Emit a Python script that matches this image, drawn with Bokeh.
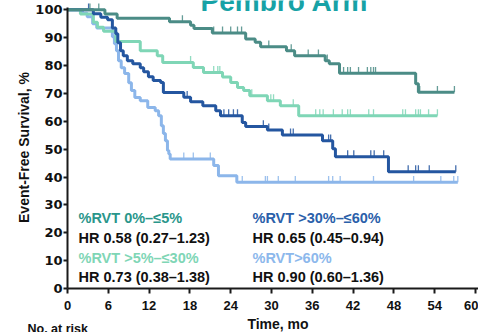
import numpy as np
from bokeh.plotting import figure
from bokeh.models import Label, FixedTicker, Range1d
from bokeh.embed import file_html
from bokeh.resources import INLINE

# ---- Kaplan-Meier data: step times (months), survival (%), last follow-up, censor times ----
rvt_0_5_t = [0, 5.5, 7.3, 15.0, 18.1, 18.6, 21.3, 26.2, 27.6, 28.4, 32.2, 33.4, 37.9, 38.5, 40.0, 51.2, 51.6]
rvt_0_5_s = [100, 98.5, 97.0, 95.7, 94.5, 93.3, 91.7, 89.5, 88.4, 86.7, 85.3, 83.5, 81.7, 80.6, 77.2, 73.5, 70.4]
rvt_0_5_end = 56.9
rvt_0_5_cens = [3.3, 4.6, 16.9, 21.5, 22.8, 24.0, 25.0, 25.6, 29.6, 32.9, 35.4, 36.9, 38.2, 40.6, 41.2,
                41.6, 42.8, 44.1, 44.6, 45.0, 45.3, 51.8, 54.4, 56.9]

rvt_5_30_t = [0, 1.9, 3.8, 4.4, 5.3, 7.1, 10.7, 13.2, 14.0, 18.5, 20.0, 22.8, 24.0, 25.0, 25.9, 26.8,
              29.4, 31.3, 34.0]
rvt_5_30_s = [100, 98.5, 95.5, 93.7, 92.3, 88.6, 85.3, 83.5, 81.1, 79.3, 77.5, 75.9, 73.9, 72.1, 71.0, 69.2,
              67.4, 65.6, 62.0]
rvt_5_30_end = 54.4
rvt_5_30_cens = [18.1, 21.5, 22.1, 22.4, 27.1, 29.9, 30.3, 33.2, 36.5, 37.1, 37.6, 39.1, 40.4, 41.2, 41.6,
                 44.3, 45.0, 49.3, 49.7, 51.2, 51.6, 51.9, 53.1, 54.4]

rvt_30_60_t = [0, 3.8, 4.9, 5.9, 6.6, 7.1, 7.4, 7.8, 8.2, 8.8, 9.6, 10.7, 11.2, 11.9, 12.6, 13.7, 14.1,
               17.1, 18.1, 19.9, 21.8, 22.5, 25.7, 26.2, 29.4, 31.6, 37.5, 39.0, 39.4, 47.2]
rvt_30_60_s = [100, 98.6, 97.3, 96.4, 93.5, 91.4, 88.2, 85.3, 83.5, 81.7, 80.6, 79.2, 77.8, 76.0, 74.6, 73.9,
               70.3, 68.6, 67.0, 65.6, 63.8, 62.0, 59.6, 58.1, 56.9, 55.1, 53.0, 50.1, 47.3, 41.9]
rvt_30_60_end = 57.1
rvt_30_60_cens = [3.1, 17.6, 23.0, 23.7, 24.4, 25.0, 28.8, 29.6, 32.8, 33.2, 38.4, 38.7, 41.2, 42.1, 44.6,
                  45.1, 46.5, 50.1, 51.2, 51.6, 53.2, 57.1]

rvt_60_t = [0, 2.2, 2.9, 3.7, 4.3, 6.6, 6.9, 7.2, 7.5, 7.9, 8.4, 9.0, 9.4, 9.9, 10.7, 11.8, 12.9, 13.4,
            13.8, 14.1, 14.4, 14.7, 14.9, 15.1, 21.5, 22.2, 24.9]
rvt_60_s = [100, 98.8, 97.5, 95.0, 93.5, 90.3, 87.8, 85.3, 81.7, 79.2, 77.1, 73.8, 71.0, 68.5, 67.4, 64.9,
            63.8, 62.0, 58.4, 55.6, 53.0, 49.5, 48.3, 46.5, 44.1, 40.5, 38.1]
rvt_60_end = 57.4
rvt_60_cens = [17.1, 18.5, 21.0, 25.7, 29.1, 29.4, 31.0, 33.5, 38.4, 39.0, 40.1, 45.0, 50.9, 54.9, 56.8, 57.4]

x_ticks = [0, 6, 12, 18, 24, 30, 36, 42, 48, 54, 60]
y_ticks = [0, 10, 20, 30, 40, 50, 60, 70, 80, 90, 100]

legend_left = ["%RVT 0%\u2013\u22645%", "HR 0.58 (0.27\u20131.23)",
               "%RVT >5%\u2013\u226430%", "HR 0.73 (0.38\u20131.38)"]
legend_right = ["%RVT >30%\u2013\u226460%", "HR 0.65 (0.45\u20130.94)",
                "%RVT>60%", "HR 0.90 (0.60\u20131.36)"]

C_TEAL = "#4b8c86"
C_MINT = "#7fd6b6"
C_BLUE = "#2456a0"
C_LBLUE = "#8cb6ea"

# ---- geometry: the frame covers the whole canvas; axes sit at t=0 and 0 % ----
X_PX_PER_MO = 6.8      # pixels per month
Y_PX_PER_PCT = 2.787   # pixels per survival percent
X0_PX, Y0_PX = 67, 288  # canvas position of the origin
W, H = 478, 332

p = figure(width=W, height=H, output_backend="svg", toolbar_location=None,
           x_range=Range1d(-X0_PX / X_PX_PER_MO, (W - X0_PX) / X_PX_PER_MO),
           y_range=Range1d(-(H - Y0_PX) / Y_PX_PER_PCT, Y0_PX / Y_PX_PER_PCT),
           min_border_left=0, min_border_right=0, min_border_top=0, min_border_bottom=0)
p.outline_line_color = None
p.xgrid.visible = False
p.ygrid.visible = False
p.background_fill_color = "white"
p.border_fill_color = "white"

for ax in (p.xaxis[0], p.yaxis[0]):
    ax.fixed_location = 0
    ax.axis_line_width = 2
    ax.axis_line_color = "#1a1a1a"
    ax.major_tick_line_width = 2
    ax.major_tick_line_color = "#1a1a1a"
    ax.major_tick_in = 0
    ax.minor_tick_out = 0
    ax.minor_tick_in = 0
    ax.major_label_text_font_style = "bold"
    ax.major_label_text_color = "#111111"

p.xaxis.ticker = FixedTicker(ticks=x_ticks)
p.xaxis.bounds = (0, (W - X0_PX) / X_PX_PER_MO)
p.xaxis.major_tick_out = 5
p.xaxis.major_label_standoff = 7
p.xaxis.major_label_text_font = "Liberation Sans"
p.xaxis.major_label_text_font_size = "13px"

p.yaxis.ticker = FixedTicker(ticks=y_ticks)
p.yaxis.bounds = (0, 101)
p.yaxis.major_tick_out = 4
p.yaxis.major_label_standoff = 1
p.yaxis.major_label_text_font = "DejaVu Sans"
p.yaxis.major_label_text_font_size = "13px"


def km_curve(t, s, end, cens, color):
    xs = list(t) + [end]
    ys = list(s) + [s[-1]]
    idx = np.searchsorted(np.array(t), np.array(cens), side="right") - 1
    cy = np.array(s)[idx]
    p.segment(x0=cens, y0=cy, x1=cens, y1=cy + 2.3, line_color=color, line_width=1.3, line_alpha=0.85)
    p.step(xs, ys, mode="after", line_color=color, line_width=3)


km_curve(rvt_60_t, rvt_60_s, rvt_60_end, rvt_60_cens, C_LBLUE)
km_curve(rvt_5_30_t, rvt_5_30_s, rvt_5_30_end, rvt_5_30_cens, C_MINT)
km_curve(rvt_30_60_t, rvt_30_60_s, rvt_30_60_end, rvt_30_60_cens, C_BLUE)
km_curve(rvt_0_5_t, rvt_0_5_s, rvt_0_5_end, rvt_0_5_cens, C_TEAL)


def canvas_label(cx, cy, text, size, color="#111111", align="left", angle=0.0):
    """Bold label whose vertical middle sits at canvas pixel (cx, cy)."""
    p.add_layout(Label(x=(cx - X0_PX) / X_PX_PER_MO, y=(Y0_PX - cy) / Y_PX_PER_PCT, text=text,
                       text_font="Liberation Sans", text_font_size=size, text_font_style="bold",
                       text_color=color, text_align=align, text_baseline="middle", angle=angle))


# legend / hazard-ratio block
left_colors = ["#2a968b", "#111111", "#7fd6b6", "#111111"]
right_colors = ["#2a60aa", "#111111", "#8cb8ec", "#111111"]
rows_y = [217, 237, 257, 276]
for txt, col, yy in zip(legend_left, left_colors, rows_y):
    canvas_label(78, yy, txt, "14.5px", color=col)
for txt, col, yy in zip(legend_right, right_colors, rows_y):
    canvas_label(252, yy, txt, "14.5px", color=col)

# axis titles, header and risk-table caption
canvas_label(23, 147, "Event-Free Survival, %", "14px", align="center", angle=np.pi / 2)
canvas_label(277.5, 323.5, "Time, mo", "14px", align="center")
canvas_label(27, 328.5, "No. at risk", "12.5px")
canvas_label(200, 1, "Pembro Arm", "28px", color="#17a2a6")

open("out.html", "w").write(file_html(p, INLINE))
